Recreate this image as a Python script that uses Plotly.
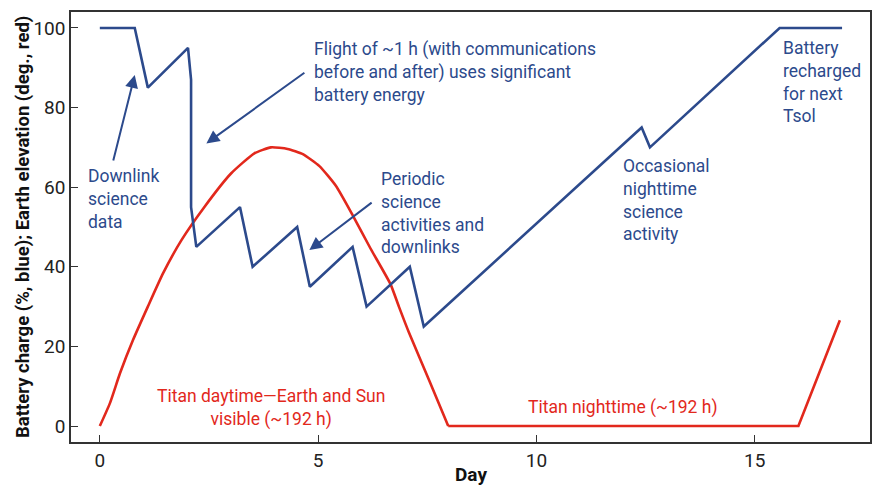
import plotly.graph_objects as go

# ---- data ----
blue_days = [0, 0.8, 1.1, 2.02, 2.09, 2.09, 2.21, 3.21, 3.5, 4.52, 4.81, 5.79, 6.11, 7.1, 7.42, 12.41, 12.6, 15.57, 17]
blue_charge = [100, 100, 85, 95, 87, 55, 45, 55, 40, 50, 35, 45, 30, 40, 25, 75, 70, 100, 100]

# Earth elevation: daytime arc and nighttime / next rise
red_day_days = [0, 0.23, 0.46, 0.76, 1.10, 1.45, 1.87, 2.40, 3.01, 3.54, 3.92, 4.3, 4.65, 5.03, 5.41,
                5.79, 6.2, 6.66, 6.85, 7.08, 7.54, 7.98]
red_day_elev = [0, 5.7, 13.2, 21.6, 30.0, 38.4, 46.7, 55.1, 63.5, 68.5, 70.0, 69.6, 68.3, 65.3, 60.3,
                53, 44.6, 35.6, 30, 23.5, 11.6, 0]
red_night_days = [7.98, 16.0, 16.95]
red_night_elev = [0, 0, 26.6]

x_ticks = [0, 5, 10, 15]
y_ticks = [0, 20, 40, 60, 80, 100]

BLUE = "#2c4a8c"
RED = "#e2281c"
FONT = "Roboto, Liberation Sans, sans-serif"

fig = go.Figure()
fig.add_trace(go.Scatter(x=red_day_days, y=red_day_elev, mode="lines",
                         line=dict(color=RED, width=2.6, shape="spline", smoothing=0.5), hoverinfo="skip"))
fig.add_trace(go.Scatter(x=red_night_days, y=red_night_elev, mode="lines",
                         line=dict(color=RED, width=2.6), hoverinfo="skip"))
fig.add_trace(go.Scatter(x=blue_days, y=blue_charge, mode="lines",
                         line=dict(color=BLUE, width=2.6), hoverinfo="skip"))

ann = []
def txt(x, y, t, color=BLUE, xanchor="left", align="left"):
    ann.append(dict(x=x, y=y, xref="x", yref="y", text=t, showarrow=False,
                    xanchor=xanchor, yanchor="middle", align=align,
                    font=dict(family=FONT, size=17.5, color=color)))

def arrow(x, y, ax, ay):
    ann.append(dict(x=x, y=y, ax=ax, ay=ay, xref="x", yref="y", axref="x", ayref="y",
                    text="", showarrow=True, arrowhead=2, arrowsize=1.3,
                    arrowwidth=2, arrowcolor=BLUE))

txt(4.87, 89.0, "Flight of ~1 h (with communications<br>before and after) uses significant<br>battery energy")
txt(-0.32, 57.0, "Downlink<br>science<br>data")
txt(6.40, 53.6, "Periodic<br>science<br>activities and<br>downlinks")
txt(11.93, 56.7, "Occasional<br>nighttime<br>science<br>activity")
txt(15.61, 86.5, "Battery<br>recharged<br>for next<br>Tsol")
txt(3.93, 4.5, "Titan daytime—Earth and Sun<br>visible (~192 h)", color=RED, xanchor="center", align="center")
txt(11.97, 4.7, "Titan nighttime (~192 h)", color=RED, xanchor="center", align="center")

arrow(0.8, 88.2, 0.30, 66.3)
arrow(2.44, 71.0, 4.72, 89.0)
arrow(4.80, 44.2, 6.26, 56.4)

ann.append(dict(x=0, y=0.5, xref="paper", yref="paper", xshift=-48, text="<b>Battery charge (%, blue); Earth elevation (deg., red)</b>",
                textangle=-90, showarrow=False, xanchor="center", yanchor="middle",
                font=dict(family=FONT, size=18.5, color="#111")))
ann.append(dict(x=0.5, y=0, xref="paper", yref="paper", yshift=-32, text="<b>Day</b>",
                showarrow=False, xanchor="center", yanchor="middle",
                font=dict(family=FONT, size=19, color="#111")))

fig.update_layout(
    width=873, height=485,
    margin=dict(l=71, r=1, t=12, b=43),
    plot_bgcolor="white", paper_bgcolor="white",
    showlegend=False,
    annotations=ann,
    font=dict(family=FONT, size=19, color="#222"),
)
axis_common = dict(showgrid=False, zeroline=False, showline=True, linecolor="#333", linewidth=1.5,
                   mirror=True, ticks="inside", ticklen=7, tickwidth=1.2, tickcolor="#333",
                   tickfont=dict(family=FONT, size=19, color="#222"))
fig.update_xaxes(range=[-0.66, 17.64], tickvals=x_ticks, **axis_common)
fig.update_yaxes(range=[-4, 104], tickvals=y_ticks, **axis_common)

fig.write_html("out.html", config={"displayModeBar": False},
               post_script="document.body.style.margin='0';document.body.style.overflow='hidden';")
